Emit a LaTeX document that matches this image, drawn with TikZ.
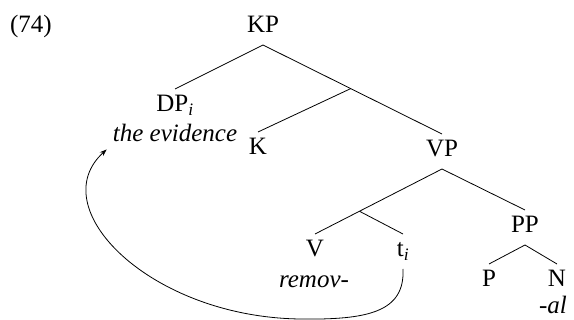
\documentclass[tikz,border=0pt]{standalone}
\usepackage{fontspec}
\setmainfont{Liberation Serif}
\usetikzlibrary{calc}
\usetikzlibrary{arrows.meta}

\begin{document}
\begin{tikzpicture}[x=1pt,y=-1pt,
  cat/.style={anchor=base,inner sep=0pt,outer sep=6pt,text height=17pt,text depth=6pt,font=\fontsize{25}{30}\selectfont},
  word/.style={anchor=base,inner sep=0pt,font=\fontsize{25}{30}\selectfont\itshape},
  branch/.style={line width=0.8pt}]

\useasboundingbox (0,0) rectangle (574,320);

% Example number
\node[cat] (num) at (31,33) {(74)};

% Top of the tree
\node[cat] (kp) at (263,33) {KP};
\node[cat] (dp) at (175,112) {DP\textsubscript{\textit{i}}};
\node[word] (dpword) at (175,142) {the evidence};
\node[cat] (k) at (258,155) {K};
\node[cat] (vp) at (442,157) {VP};
\coordinate (kbar) at ($(kp.south)!0.49!(vp.north)$);

\draw[branch] (kp.south) -- (dp.north);
\draw[branch] (kp.south) -- (vp.north);
\draw[branch] (kbar) -- (k.north);

% VP
\node[cat] (v) at (315,257) {V};
\node[word] (vword) at (314,288) {remov-};
\node[cat] (ti) at (403,257) {t\textsubscript{\textit{i}}};
\node[cat] (pp) at (525,233) {PP};
\coordinate (vbar) at ($(vp.south)!0.65!(v.north)$);

\draw[branch] (vp.south) -- (v.north);
\draw[branch] (vp.south) -- (pp.north);
\draw[branch] (vbar) -- (ti.north);

% PP
\node[cat] (p) at (489,287) {P};
\node[cat] (n) at (557,287) {N};
\node[word] (nword) at (553,314) {-al};

\draw[branch] (pp.south) -- (p.north);
\draw[branch] (pp.south) -- (n.north);

% Movement of the object
\draw[branch,-{Stealth[length=7pt,width=5pt]}] (ti.south)
  .. controls (405,312) and (368,320) .. (300,319)
  .. controls (150,317) and (42,208) .. ([shift={(-6,7)}]dpword.south west);

\end{tikzpicture}
\end{document}
